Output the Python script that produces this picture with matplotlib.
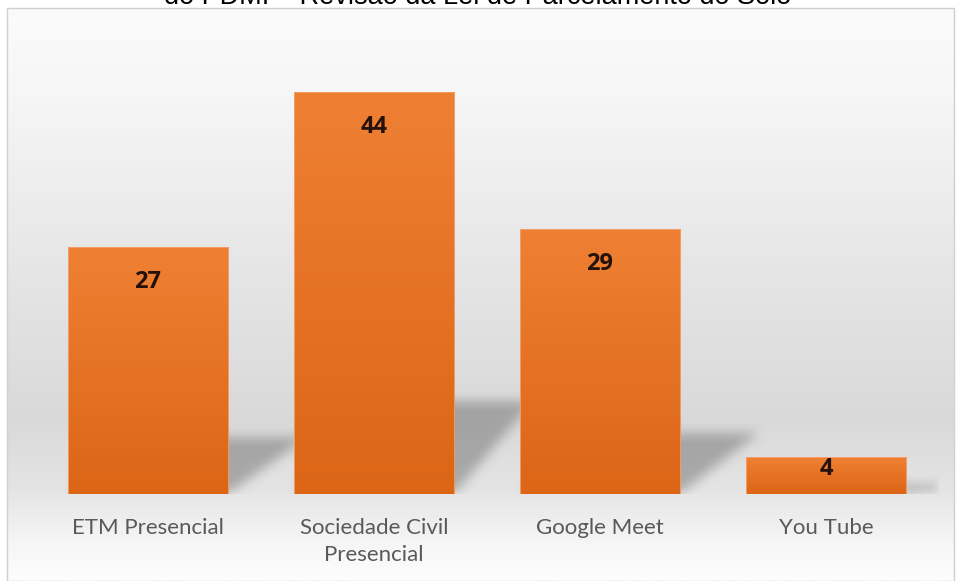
import numpy as np
import matplotlib
matplotlib.use("Agg")
import matplotlib.pyplot as plt
from matplotlib.colors import LinearSegmentedColormap
from matplotlib.patches import Rectangle
from matplotlib.path import Path

categories = ["ETM Presencial", "Sociedade Civil\nPresencial", "Google Meet", "You Tube"]
values = [27, 44, 29, 4]
title = "do PDMI – Revisão da Lei de Parcelamento do Solo"

W, H = 956, 581
fig = plt.figure(figsize=(W / 100, H / 100), dpi=100)
fig.patch.set_facecolor("white")

# chart area background: soft vertical gradient (white -> light gray -> white)
bg = fig.add_axes([7 / W, 0, 1 - 9 / W, (H - 8) / H])
bg_cmap = LinearSegmentedColormap.from_list(
    "bg",
    [(0.0, "#fbfbfb"), (0.15, "#f6f6f6"), (0.45, "#e6e6e6"), (0.72, "#d9d9d9"),
     (0.84, "#e4e4e4"), (0.93, "#f5f5f5"), (1.0, "#fdfdfd")],
)
grad = np.linspace(0, 1, 256).reshape(-1, 1)
bg.imshow(grad, aspect="auto", cmap=bg_cmap, extent=[0, 1, 0, 1], origin="upper")
bg.set_xlim(0, 1)
bg.set_ylim(0, 1)
bg.axis("off")
bg.add_patch(Rectangle((0, 0), 1, 1, transform=bg.transAxes, fill=False,
                       edgecolor="#d0d0d0", linewidth=1.0, clip_on=False))

ax = fig.add_axes([35 / W, (H - 494) / H, 904 / W, 457 / H])
ax.patch.set_alpha(0)
x = np.arange(len(values))
width = 0.71
xlim = (-0.5, len(values) - 0.5)
ylim = (0, 50)


def box_blur(a, r, axis):
    k = np.ones(2 * r + 1) / (2 * r + 1)
    return np.apply_along_axis(lambda m: np.convolve(m, k, mode="same"), axis, a)


# soft perspective shadows cast behind the bars
nx, ny = 904, 457
gx = np.linspace(xlim[0], xlim[1], nx)
gy = np.linspace(ylim[0], ylim[1], ny)
mx, my = np.meshgrid(gx, gy)
pts = np.column_stack([mx.ravel(), my.ravel()])
mask = np.zeros(mx.size)
for xi, v in zip(x, values):
    x0, x1 = xi - width / 2, xi + width / 2
    sh = 0.23 * v
    dx = 0.35
    poly = Path([(x0, 0), (x1, 0), (x1 + dx, sh), (x0 + dx, sh), (x0, 0)])
    mask = np.maximum(mask, poly.contains_points(pts))
mask = mask.reshape(ny, nx)
for _ in range(2):
    mask = box_blur(mask, 6, 0)
    mask = box_blur(mask, 6, 1)
shadow = np.zeros((ny, nx, 4))
shadow[..., :3] = 0.35
shadow[..., 3] = mask * 0.42
ax.imshow(shadow, origin="lower", aspect="auto",
          extent=[xlim[0], xlim[1], ylim[0], ylim[1]], zorder=1)

bars = ax.bar(x, values, width=width, color="none", edgecolor="#f4a46e",
              linewidth=0.6, zorder=3)
bar_cmap = LinearSegmentedColormap.from_list("bar", ["#ef8033", "#dc6516"])
for b in bars:
    bx, by = b.get_x(), b.get_y()
    bw, bh = b.get_width(), b.get_height()
    im = ax.imshow(grad, aspect="auto", cmap=bar_cmap, origin="upper",
                   extent=[bx, bx + bw, by, by + bh], zorder=2)
    im.set_clip_path(b)
ax.set_xlim(*xlim)
ax.set_ylim(*ylim)

for xi, v in zip(x, values):
    off = -25 if v > 10 else -8
    ax.annotate(str(v), (xi, v), xytext=(0, off), textcoords="offset points",
                ha="center", va="center", fontsize=17, fontweight="bold",
                color="#24120a", family="Open Sans", zorder=4)

ax.set_xticks(x)
ax.set_xticklabels(categories, fontsize=16, color="#595959",
                   family="Lato", linespacing=1.45)
ax.tick_params(axis="x", length=0, pad=17)
ax.set_yticks([])
for s in ax.spines.values():
    s.set_visible(False)

fig.text(0.5, 1 - 3.5 / H, title, ha="center", va="baseline", fontsize=19.5,
         family="Liberation Sans", color="black")

fig.savefig("out.png", dpi=100)
